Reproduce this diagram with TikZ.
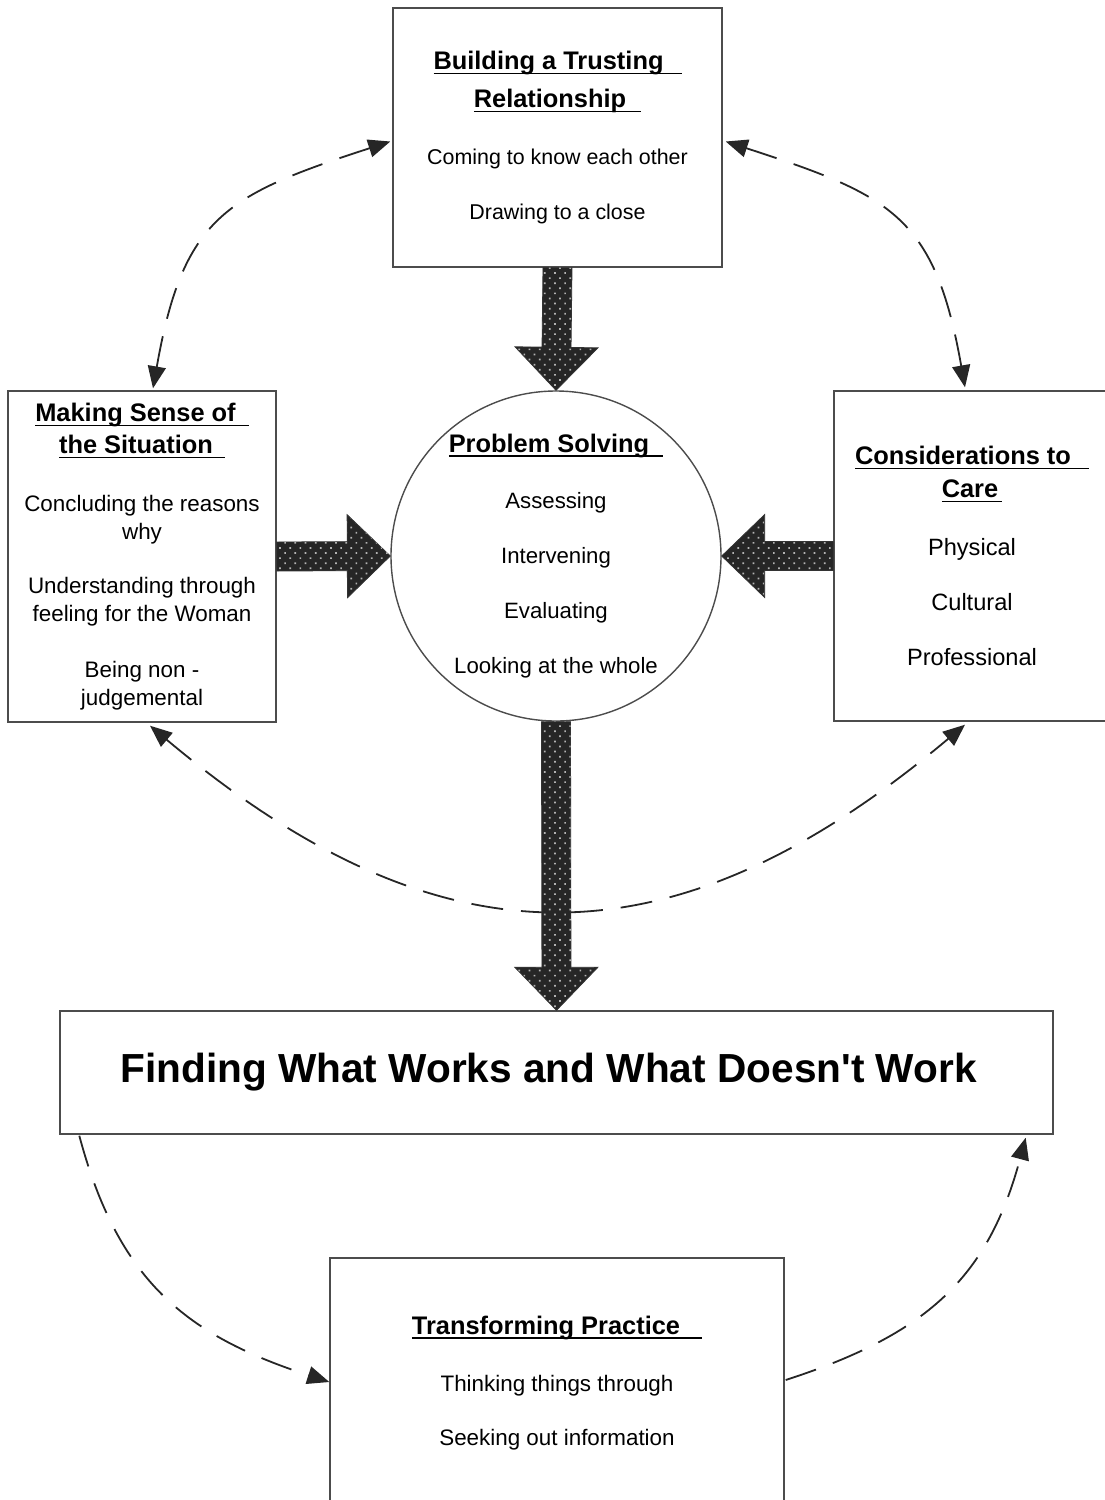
\documentclass[tikz,border=0pt]{standalone}
\usepackage{fontspec}
\setmainfont{Liberation Sans}[Ligatures=TeXOff]
\usetikzlibrary{calc, positioning, arrows.meta, patterns.meta}

\newsavebox{\headbox}
\newcommand{\underhead}[1]{\sbox\headbox{#1}\rlap{\rule[-2.3pt]{\wd\headbox}{0.7pt}}\usebox\headbox}
\newcommand{\headfont}{\bfseries\fontsize{12.7}{15}\selectfont}

\tikzset{
    stageBox/.style={rectangle, draw=black!70, line width=0.7pt, fill=white, align=center, inner sep=0pt, font=\fontsize{11.2}{14}\selectfont},
    coreCircle/.style={circle, draw=black!70, line width=0.7pt, fill=white, align=center, inner sep=0pt, minimum size=165pt, font=\fontsize{11.1}{14}\selectfont},
    outcomeBox/.style={rectangle, draw=black!70, line width=0.7pt, fill=white, align=center, inner sep=0pt, minimum width=496.5pt, minimum height=61.5pt, font=\bfseries\fontsize{20.3}{24}\selectfont},
    bigArrow/.style={draw=black!80, line width=0.4pt, fill=black!85, postaction={pattern={Dots[angle=45, distance=3.6pt, radius=0.6pt]}, pattern color=white!70!black}},
    loopArrow/.style={draw=black!85, line width=0.9pt, dash pattern=on 16pt off 9pt, >={Triangle[length=11pt, width=9pt]}}
}

% block arrow from one node anchor to another
\newcommand{\blockArrow}[2]{%
    \coordinate (headBase) at ($(#2)!21.5pt!(#1)$);
    \path[bigArrow] ($(#1)!7.25pt!90:(#2)$) -- ($(headBase)!7.25pt!90:(#2)$) -- ($(headBase)!20.75pt!90:(#2)$) -- (#2) -- ($(headBase)!20.75pt!-90:(#2)$) -- ($(headBase)!7.25pt!-90:(#2)$) -- ($(#1)!7.25pt!-90:(#2)$) -- cycle;
}

\begin{document}
\begin{tikzpicture}[x=0.5pt, y=0.5pt]
    \useasboundingbox (0,0) rectangle (1104,-1500);

    % Stages
    \node[stageBox, minimum width=164.5pt, minimum height=129.5pt, font=\fontsize{10.7}{14}\selectfont] (trust) at (557.5,-137.5)
        {{\headfont\underhead{Building a Trusting\hspace{9pt}}}\\[5pt]
         {\headfont\underhead{Relationship\hspace{7.5pt}}}\\[14.3pt]
         Coming to know each other\\[13.5pt]
         Drawing to a close};

    \node[stageBox, minimum width=134pt, minimum height=165.5pt] (sense) at (142,-556.5)
        {{\headfont\underhead{Making Sense of\hspace{6.5pt}}}\\[2pt]
         {\headfont\underhead{the Situation\hspace{6pt}}}\\[14.8pt]
         Concluding the reasons\\
         why\\[13pt]
         Understanding through\\
         feeling for the Woman\\[14pt]
         Being non -\\
         judgemental};

    \node[coreCircle] (solve) at (556,-556)
        {{\headfont\underhead{Problem Solving\hspace{7pt}}}\\[14.2pt]
         Assessing\\[13.5pt]
         Intervening\\[13.5pt]
         Evaluating\\[13.5pt]
         Looking at the whole};

    \node[stageBox, minimum width=138pt, minimum height=165pt, font=\fontsize{11.8}{14}\selectfont] (care) at (972,-556)
        {{\headfont\underhead{Considerations to\hspace{9pt}}}\\[2.5pt]
         {\headfont\underhead{Care\hspace{2pt}}}\\[14.7pt]
         Physical\\[13.5pt]
         Cultural\\[13.5pt]
         Professional};

    \node[outcomeBox] (works) at (556.5,-1072.5) {Finding What Works and What Doesn't Work\hspace{8pt}};

    \node[stageBox, minimum width=227pt, minimum height=125pt] (practice) at (557,-1383)
        {{\headfont\underhead{Transforming Practice\hspace{11pt}}}\\[14.7pt]
         Thinking things through\\[13pt]
         Seeking out information};

    % Dashed loops
    \draw[loopArrow, <->] ($(trust.west)+(-2,-4)$) to[out=198, in=80, looseness=1.3] ($(sense.north)+(11,2)$);
    \draw[loopArrow, <->] ($(trust.east)+(3,-4)$) to[out=-18, in=100, looseness=1.3] ($(care.north)+(-7,3)$);
    \draw[loopArrow, <->] ($(sense.south)+(8,-3)$) to[out=-40, in=-140, looseness=1.2] ($(care.south)+(-7,-3)$);
    \draw[loopArrow, ->] ($(works.south west)+(20,-1)$) to[out=-75, in=162, looseness=1.1] ($(practice.west)+(0,1)$);
    \draw[loopArrow, ->] ($(practice.east)+(1,3)$) to[out=18, in=-105, looseness=1.1] ($(works.south east)+(-28,-3)$);

    % Block arrows
    \blockArrow{trust.south}{solve.north}
    \blockArrow{sense.east}{solve.west}
    \blockArrow{care.west}{solve.east}
    \blockArrow{solve.south}{works.north}
\end{tikzpicture}
\end{document}
